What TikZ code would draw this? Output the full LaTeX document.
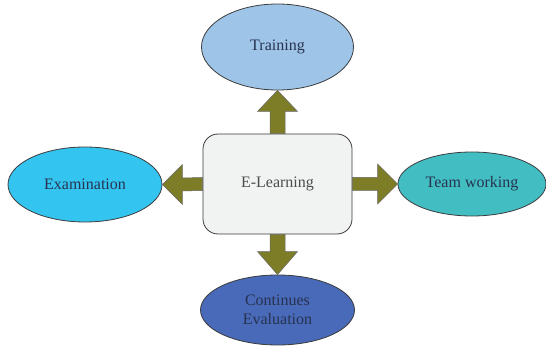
\documentclass[tikz,border=0pt]{standalone}
\usepackage{fontspec}
\setmainfont{Liberation Serif}
\usetikzlibrary{shapes.geometric,calc}
\definecolor{olivearrow}{RGB}{125,125,40}
\definecolor{trainfill}{RGB}{158,197,232}
\definecolor{examfill}{RGB}{52,196,240}
\definecolor{teamfill}{RGB}{66,190,194}
\definecolor{evalfill}{RGB}{72,106,184}
\definecolor{centerfill}{RGB}{241,242,242}
\definecolor{txtdark}{RGB}{40,50,80}
\definecolor{outline}{RGB}{60,60,60}
\tikzset{
  oval/.style={ellipse, draw=outline, line width=0.8pt, inner sep=0pt, text=txtdark,
    font=\fontsize{16}{19}\selectfont, align=center},
  centerbox/.style={rectangle, rounded corners=15pt, draw=outline, line width=0.8pt,
    fill=centerfill, minimum width=149pt, minimum height=100pt, text=black!70,
    font=\fontsize{16}{19}\selectfont},
  barrow/.style={fill=olivearrow, draw=black!60, line width=0.5pt, line join=miter}
}
\begin{document}
\begin{tikzpicture}[x=1pt,y=-1pt]
\useasboundingbox (0,0) rectangle (546,347);
\fill[white] (0,0) rectangle (546,347);
% nodes
\node[centerbox] (c) at (277.5,184) {E-Learning};
\node[oval, fill=trainfill, minimum width=152pt, minimum height=86pt] (t) at (277.5,47) {Training};
\node[oval, fill=examfill, minimum width=154pt, minimum height=75pt] (ex) at (85,184.5) {Examination};
\node[oval, fill=teamfill, minimum width=148pt, minimum height=64pt] (tw) at (472,184) {Team working};
\node[oval, fill=evalfill, minimum width=154pt, minimum height=70pt] (ev) at (277.5,310) {Continues\\Evaluation};
% block arrows
\filldraw[barrow] ($(c.north)+(-7.5,0)$) -- ($(t.south)+(-7.5,21)$) -- ($(t.south)+(-20,21)$) -- (t.south)
  -- ($(t.south)+(20,21)$) -- ($(t.south)+(7.5,21)$) -- ($(c.north)+(7.5,0)$) -- cycle;
\filldraw[barrow] ($(c.south)+(-7.5,0)$) -- ($(ev.north)+(-7.5,-23)$) -- ($(ev.north)+(-20,-23)$) -- (ev.north)
  -- ($(ev.north)+(20,-23)$) -- ($(ev.north)+(7.5,-23)$) -- ($(c.south)+(7.5,0)$) -- cycle;
\filldraw[barrow] ($(c.west)+(0,-6.5)$) -- ($(ex.east)+(20,-6.5)$) -- ($(ex.east)+(20,-20)$) -- (ex.east)
  -- ($(ex.east)+(20,20)$) -- ($(ex.east)+(20,6.5)$) -- ($(c.west)+(0,6.5)$) -- cycle;
\filldraw[barrow] ($(c.east)+(0,-6.5)$) -- ($(tw.west)+(-20,-6.5)$) -- ($(tw.west)+(-20,-20)$) -- (tw.west)
  -- ($(tw.west)+(-20,20)$) -- ($(tw.west)+(-20,6.5)$) -- ($(c.east)+(0,6.5)$) -- cycle;
\end{tikzpicture}
\end{document}
